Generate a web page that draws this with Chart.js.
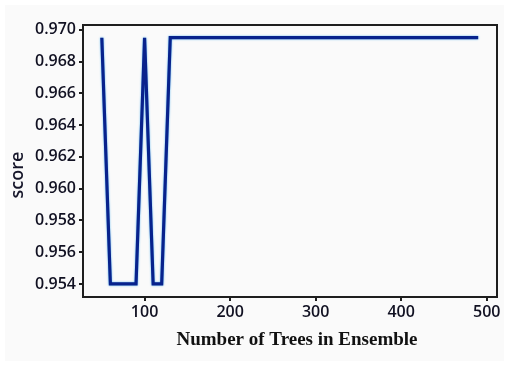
<!DOCTYPE html>
<html>
<head>
<meta charset="utf-8">
<script src="https://cdn.jsdelivr.net/npm/chart.js@4"></script>
<style>
  html, body { margin: 0; padding: 0; background: #ffffff; }
  #wrap { position: absolute; left: 0; top: 0; width: 509px; height: 366px; }
</style>
</head>
<body>
<div id="wrap"><canvas id="line_chart" width="509" height="366"></canvas></div>
<script>
// number of trees in the ensemble
const nTrees = [50, 60, 70, 80, 90, 100, 110, 120, 130, 140,
                150, 160, 170, 180, 190, 200, 210, 220, 230, 240,
                250, 260, 270, 280, 290, 300, 310, 320, 330, 340,
                350, 360, 370, 380, 390, 400, 410, 420, 430, 440,
                450, 460, 470, 480, 490];
const scores = [0.9695, 0.9540, 0.9540, 0.9540, 0.9540, 0.9695, 0.9540, 0.9540, 0.9695, 0.9695,
                0.9695, 0.9695, 0.9695, 0.9695, 0.9695, 0.9695, 0.9695, 0.9695, 0.9695, 0.9695,
                0.9695, 0.9695, 0.9695, 0.9695, 0.9695, 0.9695, 0.9695, 0.9695, 0.9695, 0.9695,
                0.9695, 0.9695, 0.9695, 0.9695, 0.9695, 0.9695, 0.9695, 0.9695, 0.9695, 0.9695,
                0.9695, 0.9695, 0.9695, 0.9695, 0.9695];
const xTicks = [100, 200, 300, 400, 500];
const yTicks = [0.954, 0.956, 0.958, 0.960, 0.962, 0.964, 0.966, 0.968, 0.970];
const xTitle = 'Number of Trees in Ensemble';
const yTitle = 'score';

const AREA = { left: 83, top: 25, right: 497, bottom: 297 };

// light panel behind everything, box round the plot area, axis titles
const frame = {
  id: 'frame',
  beforeDraw(chart) {
    const c = chart.ctx;
    c.save();
    c.fillStyle = '#fafafa';
    c.fillRect(5, 5, chart.width - 10, chart.height - 10);
    c.restore();
  },
  afterDatasetsDraw(chart) {
    const a = chart.chartArea, c = chart.ctx;
    c.save();
    c.strokeStyle = '#1e1e1e';
    c.lineWidth = 2;
    c.strokeRect(a.left, a.top, a.right - a.left, a.bottom - a.top);
    c.restore();
  },
  afterDraw(chart) {
    const c = chart.ctx;
    c.save();
    c.textAlign = 'center';
    c.textBaseline = 'middle';
    c.fillStyle = '#111111';
    c.font = 'bold 19px "Liberation Serif"';
    c.fillText(xTitle, 297, 340);
    c.translate(18, 175);
    c.rotate(-Math.PI / 2);
    c.fillStyle = '#16162a';
    c.font = '600 18px "Open Sans"';
    c.fillText(yTitle, 0, 0);
    c.restore();
  }
};

// thin cyan glow under the navy line
const glow = {
  id: 'glow',
  beforeDatasetDraw(chart) {
    chart.ctx.save();
    chart.ctx.shadowColor = 'rgba(60,170,240,0.9)';
    chart.ctx.shadowBlur = 2;
  },
  afterDatasetDraw(chart) {
    chart.ctx.restore();
  }
};

new Chart(document.getElementById('line_chart').getContext('2d'), {
  type: 'line',
  data: {
    datasets: [{
      label: 'score',
      data: nTrees.map((n, i) => ({ x: n, y: scores[i] })),
      borderColor: '#08228c',
      borderWidth: 3.2,
      pointRadius: 0,
      tension: 0,
      fill: false
    }]
  },
  options: {
    responsive: false,
    animation: false,
    devicePixelRatio: 1,
    layout: { padding: { left: 0, top: AREA.top, right: 509 - AREA.right, bottom: 0 } },
    plugins: { legend: { display: false }, tooltip: { enabled: false } },
    scales: {
      x: {
        type: 'linear',
        min: 28,
        max: 512,
        afterBuildTicks: s => { s.ticks = xTicks.map(v => ({ value: v })); },
        afterFit: s => { s.height = 366 - AREA.bottom; },
        grid: { drawOnChartArea: false, tickLength: 4, color: '#1e1e1e', lineWidth: 2 },
        border: { display: false },
        ticks: {
          color: '#111122',
          font: { family: 'Open Sans', size: 16, weight: '600' },
          padding: 2,
          maxRotation: 0
        }
      },
      y: {
        type: 'linear',
        min: 0.95318,
        max: 0.97030,
        afterBuildTicks: s => { s.ticks = yTicks.map(v => ({ value: v })); },
        afterFit: s => { s.width = AREA.left; },
        grid: { drawOnChartArea: false, tickLength: 4, color: '#1e1e1e', lineWidth: 2 },
        border: { display: false },
        ticks: {
          color: '#111122',
          font: { family: 'Open Sans', size: 16, weight: '600' },
          padding: 3,
          callback: v => v.toFixed(3)
        }
      }
    }
  },
  plugins: [frame, glow]
});
</script>
</body>
</html>
